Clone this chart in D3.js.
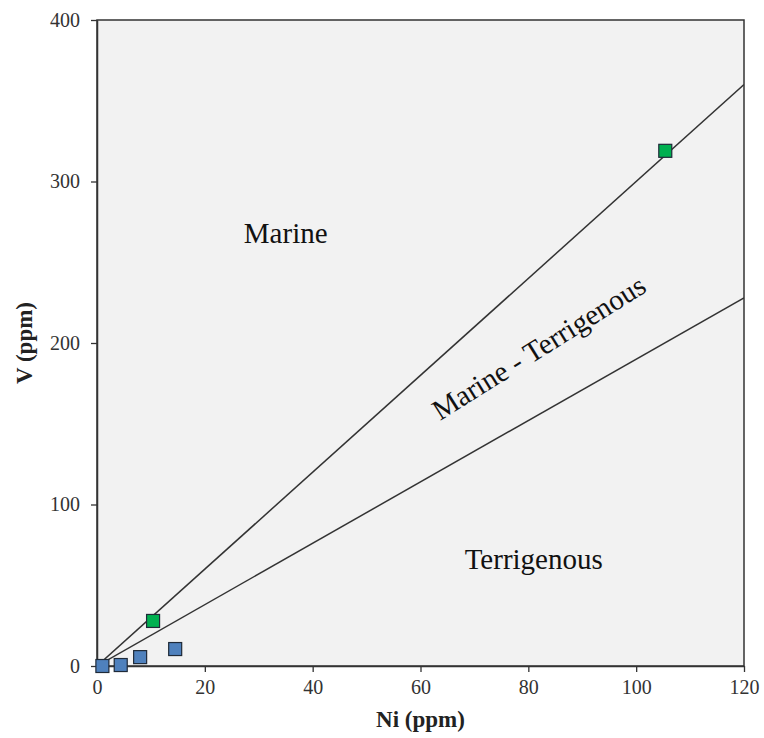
<!DOCTYPE html>
<html>
<head>
<meta charset="utf-8">
<script src="https://cdn.jsdelivr.net/npm/d3@7"></script>
<style>
  html, body { margin: 0; padding: 0; background: #ffffff; }
  svg text { font-family: "Liberation Serif", "Times New Roman", Times, serif !important; }
</style>
</head>
<body>
<svg id="chart" width="764" height="738"></svg>
<script>
// Ni vs V discrimination plot
const xTicks = [0, 20, 40, 60, 80, 100, 120];
const yTicks = [0, 100, 200, 300, 400];

// Samples (blue group)
const blueNi = [1.0, 4.4, 8.0, 14.5];
const blueV  = [0.0, 0.6, 5.5, 10.5];
// Samples (green group)
const greenNi = [10.4, 105.4];
const greenV  = [27.9, 319.0];

// Boundary lines V = k * Ni
const boundarySlopes = [3.0, 1.9];

const regionLabels = ["Marine", "Marine - Terrigenous", "Terrigenous"];

const W = 764, H = 738;
const margin = { top: 20, right: 20, bottom: 72, left: 97 };
const svg = d3.select("#chart");

const x = d3.scaleLinear().domain([0, 120]).range([margin.left, W - margin.right]);
const y = d3.scaleLinear().domain([0, 400]).range([H - margin.bottom, margin.top]);

// plot background
svg.append("rect")
  .attr("x", x(0)).attr("y", y(400))
  .attr("width", x(120) - x(0)).attr("height", y(0) - y(400))
  .attr("fill", "#f2f2f2")
  .attr("stroke", "#333").attr("stroke-width", 1.5);

// clip for boundary lines
svg.append("clipPath").attr("id", "plotClip")
  .append("rect")
  .attr("x", x(0)).attr("y", y(400))
  .attr("width", x(120) - x(0)).attr("height", y(0) - y(400));

const lineG = svg.append("g").attr("clip-path", "url(#plotClip)");
boundarySlopes.forEach(k => {
  lineG.append("line")
    .attr("x1", x(0)).attr("y1", y(0))
    .attr("x2", x(120)).attr("y2", y(120 * k))
    .attr("stroke", "#333").attr("stroke-width", 1.5);
});

// axes
const xAxis = d3.axisBottom(x).tickValues(xTicks).tickSize(6).tickSizeOuter(0).tickPadding(8);
const yAxis = d3.axisLeft(y).tickValues(yTicks).tickSize(6).tickSizeOuter(0).tickPadding(11);

const gx = svg.append("g").attr("transform", `translate(0,${y(0)})`).call(xAxis);
const gy = svg.append("g").attr("transform", `translate(${x(0)},0)`).call(yAxis);
[gx, gy].forEach(g => {
  g.attr("font-family", null);
  g.select(".domain").attr("stroke", "#333").attr("stroke-width", 1.5);
  g.selectAll(".tick line").attr("stroke", "#333").attr("stroke-width", 1.3);
  g.selectAll(".tick text")
    .attr("font-size", 20).attr("fill", "#333");
});

// markers
const size = 13;
function drawSquares(niArr, vArr, fill) {
  svg.append("g").selectAll("rect")
    .data(niArr.map((d, i) => ({ ni: d, v: vArr[i] })))
    .join("rect")
    .attr("x", d => x(d.ni) - size / 2)
    .attr("y", d => y(d.v) - size / 2)
    .attr("width", size).attr("height", size)
    .attr("fill", fill)
    .attr("stroke", "#1f2a38").attr("stroke-width", 1.2);
}
drawSquares(blueNi, blueV, "#4f81bd");
drawSquares(greenNi, greenV, "#00b050");

// region labels
svg.append("text")
  .attr("x", x(35.0)).attr("y", y(262))
  .attr("text-anchor", "middle")
  .attr("font-size", 29).attr("fill", "#111")
  .text(regionLabels[0]);

svg.append("text")
  .attr("transform", `translate(${x(82.9)},${y(192)}) rotate(-32)`)
  .attr("text-anchor", "middle")
  .attr("font-size", 29).attr("fill", "#111")
  .text(regionLabels[1]);

svg.append("text")
  .attr("x", x(81.0)).attr("y", y(60))
  .attr("text-anchor", "middle")
  .attr("font-size", 29).attr("fill", "#111")
  .text(regionLabels[2]);

// axis titles
svg.append("text")
  .attr("x", (x(0) + x(120)) / 2).attr("y", 727)
  .attr("text-anchor", "middle")
  .attr("font-size", 23).attr("font-weight", "bold").attr("fill", "#222")
  .text("Ni (ppm)");

svg.append("text")
  .attr("transform", `translate(32,${(y(0) + y(400)) / 2}) rotate(-90)`)
  .attr("text-anchor", "middle")
  .attr("font-size", 23).attr("font-weight", "bold").attr("fill", "#222")
  .text("V (ppm)");
</script>
</body>
</html>
